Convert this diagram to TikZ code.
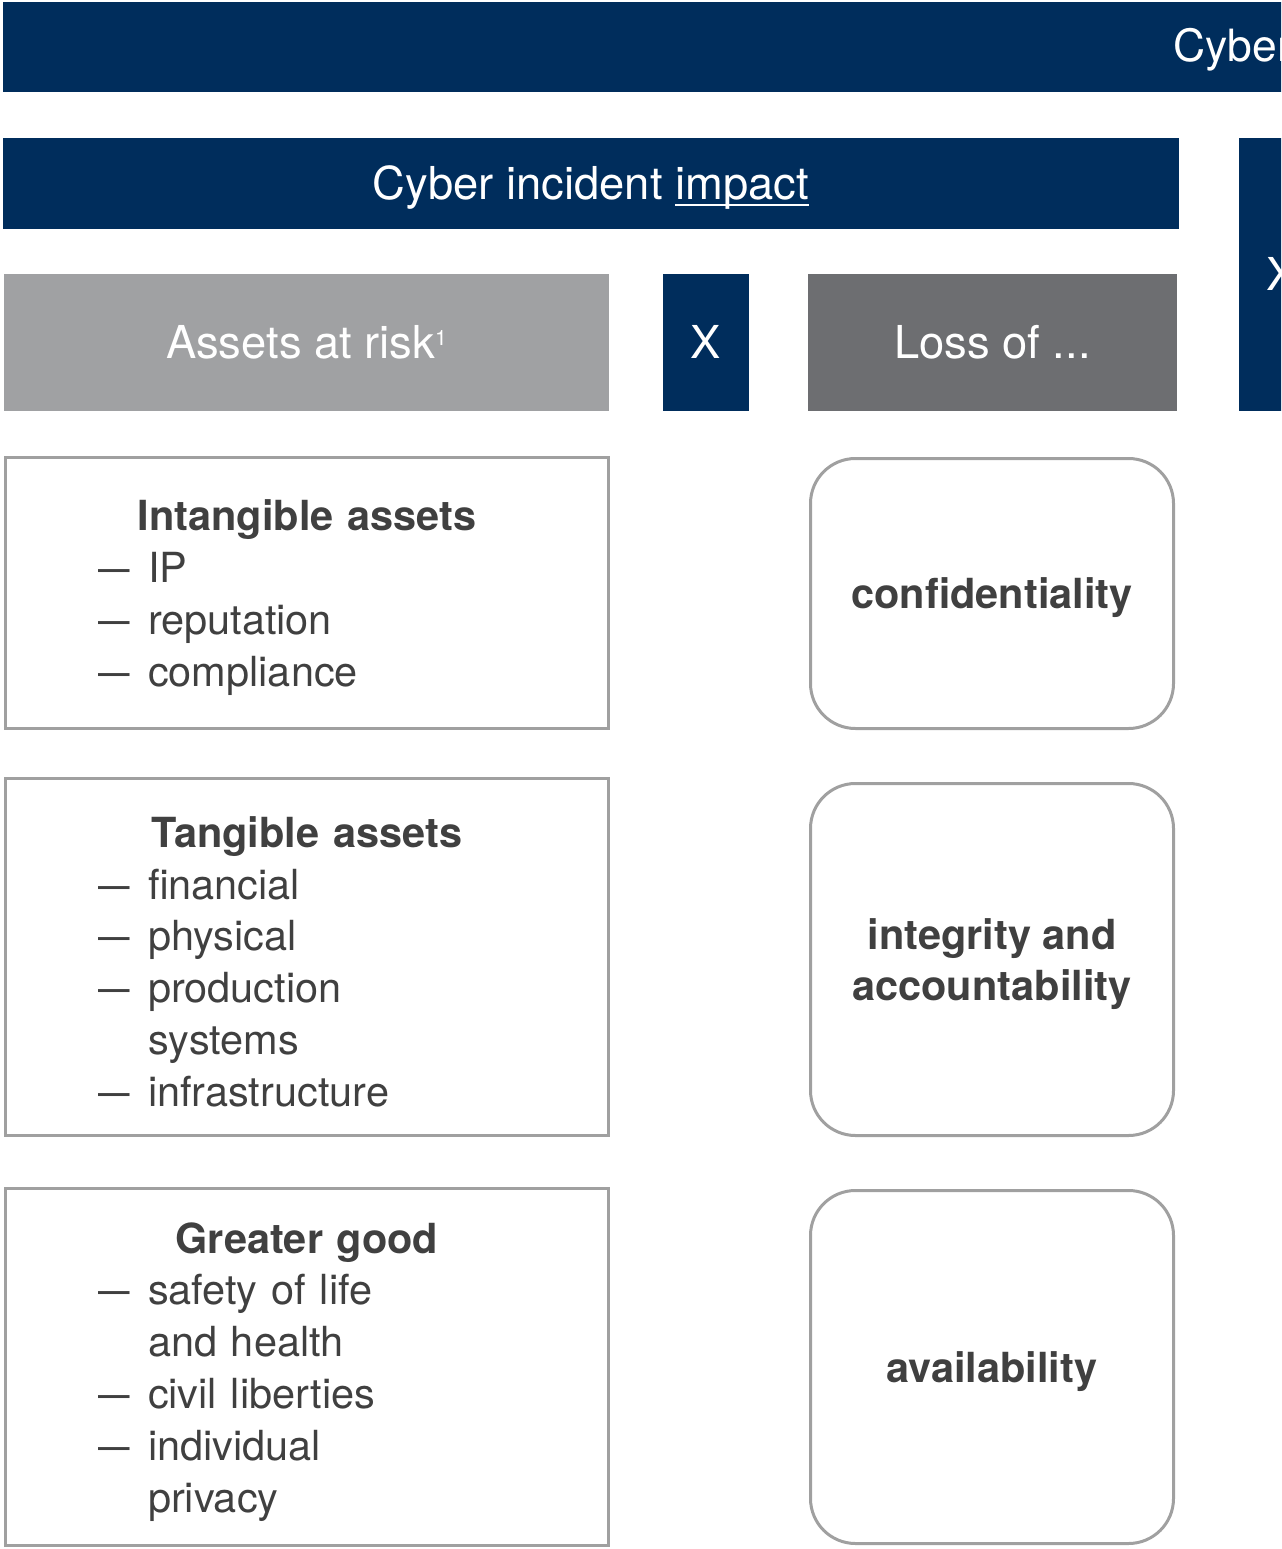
\documentclass[tikz,border=0pt]{standalone}
\usepackage{fontspec}
\setmainfont{TeX Gyre Heros}
\usepackage{tikz}

\definecolor{kblue}{RGB}{0,45,92}
\definecolor{lightgrey}{RGB}{160,161,163}
\definecolor{darkgrey}{RGB}{109,110,113}
\definecolor{linegrey}{RGB}{160,160,160}
\definecolor{textgrey}{RGB}{64,64,64}

\newcommand{\undertxt}[1]{\setbox0=\hbox{#1}\rlap{\rule[-3.4pt]{\wd0}{1.1pt}}\box0}
\newcommand{\risktitle}[1]{{\noindent\centering\bfseries\rule{0pt}{23pt}#1\par}}
\newcommand{\riskitem}[1]{\noindent\hangindent=2.85cm\hangafter=1\hspace*{1.85cm}\makebox[1cm][l]{\scalebox{0.76}[1]{—}}#1\par}

\begin{document}
\begin{tikzpicture}[
    bar/.style={fill=kblue, minimum height=1.82cm, inner sep=0pt},
    headtext/.style={text=white, font=\fontsize{25.8}{30}\selectfont, text height=18.5pt, text depth=0pt},
    headbox/.style={minimum height=2.74cm, inner sep=0pt, headtext},
    assetbox/.style={draw=linegrey, line width=0.06cm, text=textgrey, text width=12.06cm, inner xsep=0pt, minimum height=#1, font=\fontsize{23.6}{29.5}\selectfont},
    lossbox/.style={draw=linegrey, line width=0.06cm, rounded corners=0.9cm, text=textgrey, minimum width=7.26cm, minimum height=#1, align=center, text depth=0pt, font=\bfseries\fontsize{23.6}{29.5}\selectfont}
]
    % frame of the picture
    \useasboundingbox (0,0) rectangle (25.62,-30.98);
    \clip (0,0) rectangle (25.62,-30.98);

    % top bar, cut off at the right
    \node[bar, anchor=north west, minimum width=26cm, minimum height=1.8cm] (riskbar) at (0.06,-0.04) {};
    \node[headtext, font=\fontsize{25.3}{30}\selectfont, anchor=base west, inner sep=0pt] (risklabel) at (23.46,-1.24) {Cyber};

    % impact bar
    \node[bar, headtext, minimum width=23.52cm] (impact) at (11.82,-3.67) {Cyber incident \undertxt{impact}};

    % second factor, cut off at the right
    \node[bar, headtext, minimum width=1.72cm, minimum height=5.46cm] (xright) at (25.64,-5.49) {X};

    % headers
    \node[headbox, fill=lightgrey, minimum width=12.1cm] (assets) at (6.13,-6.85) {Assets at risk\raisebox{7.6pt}{\fontsize{12}{12}\selectfont 1}};
    \node[headbox, fill=kblue, minimum width=1.72cm] (times) at (14.12,-6.85) {X};
    \node[headbox, fill=darkgrey, minimum width=7.38cm] (loss) at (19.85,-6.85) {Loss of ...};

    % assets at risk
    \node[assetbox=5.42cm] (intangible) at (6.14,-11.86) {\risktitle{Intangible assets}\riskitem{IP}\riskitem{reputation}\riskitem{compliance}};
    \node[assetbox=7.14cm] (tangible) at (6.14,-19.14) {\risktitle{Tangible assets}\riskitem{financial}\riskitem{physical}\riskitem{production\newline systems}\riskitem{infrastructure}};
    \node[assetbox=7.14cm] (greater) at (6.14,-27.34) {\risktitle{Greater good}\riskitem{safety of life\newline and health}\riskitem{civil liberties}\riskitem{individual\newline privacy}};

    % loss of ...
    \node[lossbox=5.4cm] (confid) at (19.84,-11.87) {confidentiality};
    \node[lossbox=7.04cm] (integ) at (19.84,-19.19) {integrity and\\accountability};
    \node[lossbox=7.06cm] (avail) at (19.84,-27.34) {availability};
\end{tikzpicture}
\end{document}
